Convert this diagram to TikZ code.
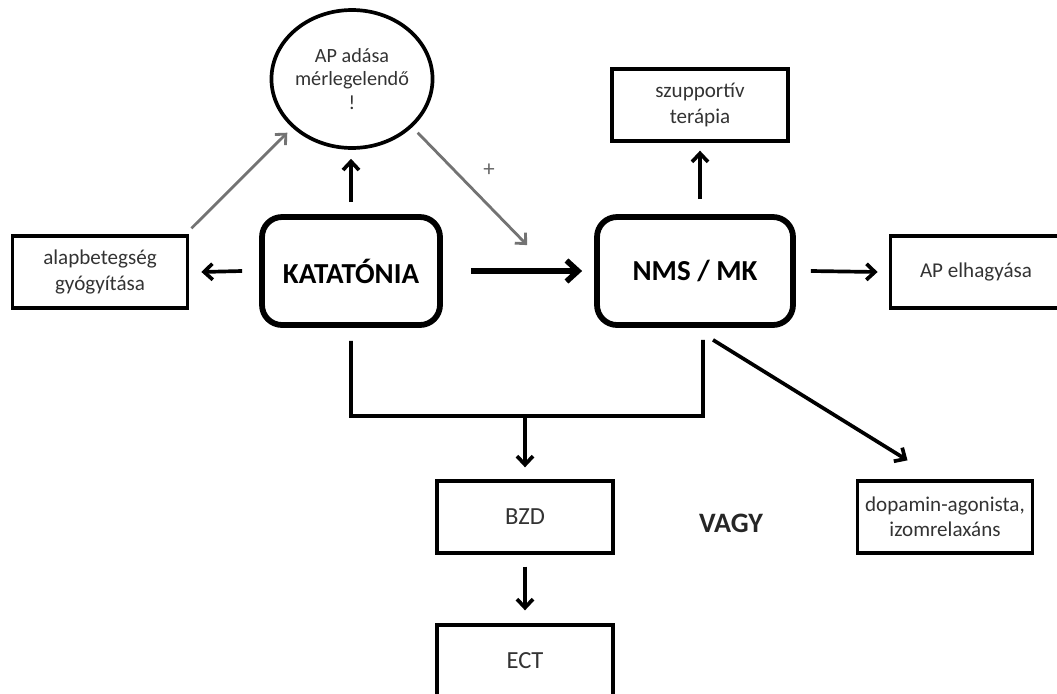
\documentclass[tikz,border=0pt]{standalone}
\usepackage{fontspec}
\setmainfont{Carlito}
\usetikzlibrary{arrows.meta,shapes.geometric}

\begin{document}
\begin{tikzpicture}[x=0.02cm, y=-0.02cm,
    mainbox/.style={draw, line width=3.3pt, rounded corners=0.4cm, minimum height=2.16cm,
      font=\fontsize{16.5}{19}\selectfont\bfseries},
    smallbox/.style={draw, line width=2.2pt, minimum width=3.52cm, minimum height=1.43cm,
      align=center, inner sep=0pt, text=black!80, font=\fontsize{12}{14.5}\selectfont},
    conn/.style={line width=2.1pt, -{Straight Barb[length=1.7mm,width=3.2mm]}},
    bigconn/.style={line width=3.2pt, -{Straight Barb[length=2.3mm,width=4.2mm]}},
    grayconn/.style={line width=1.6pt, draw=black!55, -{Straight Barb[length=1.6mm,width=3mm]}}]
    \useasboundingbox (0,0) rectangle (1057,693);

    % main states
    \node[mainbox, minimum width=3.56cm] (kat) at (351,271) {KATATÓNIA};
    \node[mainbox, minimum width=3.92cm] (nms) at (695,271) {NMS / MK};

    % circle on top
    \node[draw, ellipse, line width=2.1pt, minimum width=3.06cm, minimum height=2.76cm,
      align=center, inner sep=0pt, text=black!80, font=\fontsize{11.5}{13.5}\selectfont] (ap) at (352,79)
      {AP adása\\mérlegelendő\\!};

    % treatment boxes
    \node[smallbox, minimum width=3.5cm] (alap) at (100,272) {alapbetegség\\gyógyítása};
    \node[smallbox] (szup) at (700,105) {szupportív\\terápia};
    \node[smallbox, minimum width=3.42cm] (hagy) at (976,272) {AP elhagyása};
    \node[smallbox, font=\fontsize{14}{16}\selectfont] (bzd) at (525,517) {BZD};
    \node[smallbox, font=\fontsize{14}{16}\selectfont] (ect) at (525,661) {ECT};
    \node[smallbox, minimum width=3.5cm] (dop) at (945,517) {dopamin-agonista,\\izomrelaxáns};

    \node[font=\fontsize{16}{18}\selectfont\bfseries, text=black!85] (vagy) at (731,523) {VAGY};
    \node[text=black!60, font=\fontsize{13}{15}\selectfont] (plus) at (489,170) {+};

    % arrows around KATATONIA
    \draw[conn] ([xshift=-0.34cm]kat.west) -- ([xshift=0.24cm]alap.east);
    \draw[conn] ([yshift=0.24cm]kat.north) -- ([yshift=-0.18cm]kat.north |- ap.south);
    \draw[bigconn] ([xshift=0.56cm]kat.east) -- ([xshift=-0.24cm]nms.west);

    % arrows around NMS
    \draw[conn] ([yshift=0.3cm]szup.south |- nms.north) -- ([yshift=-0.16cm]szup.south);
    \draw[conn] ([xshift=0.3cm]nms.east) -- ([xshift=-0.22cm]hagy.west);
    \draw[conn] ([xshift=0.36cm,yshift=-0.24cm]nms.south) -- ([xshift=-0.75cm,yshift=0.38cm]dop.north);

    % gray arrows
    \draw[grayconn] ([xshift=0.04cm,yshift=0.12cm]alap.north east) -- ([xshift=-0.22cm]ap.225);
    \draw[grayconn] ([xshift=0.24cm]ap.-45) -- ([xshift=-1.34cm,yshift=-0.62cm]nms.north west);

    % joint branch to BZD
    \coordinate (jr) at (703,416);
    \draw[line width=2.1pt] ([yshift=-0.26cm]kat.south) -- (kat.south |- jr) -- (jr) -- ([xshift=0.16cm,yshift=-0.24cm]nms.south);
    \draw[conn] (bzd.north |- jr) -- ([yshift=0.24cm]bzd.north);
    \draw[conn] ([yshift=-0.24cm]bzd.south) -- ([yshift=0.26cm]ect.north);

\end{tikzpicture}
\end{document}
